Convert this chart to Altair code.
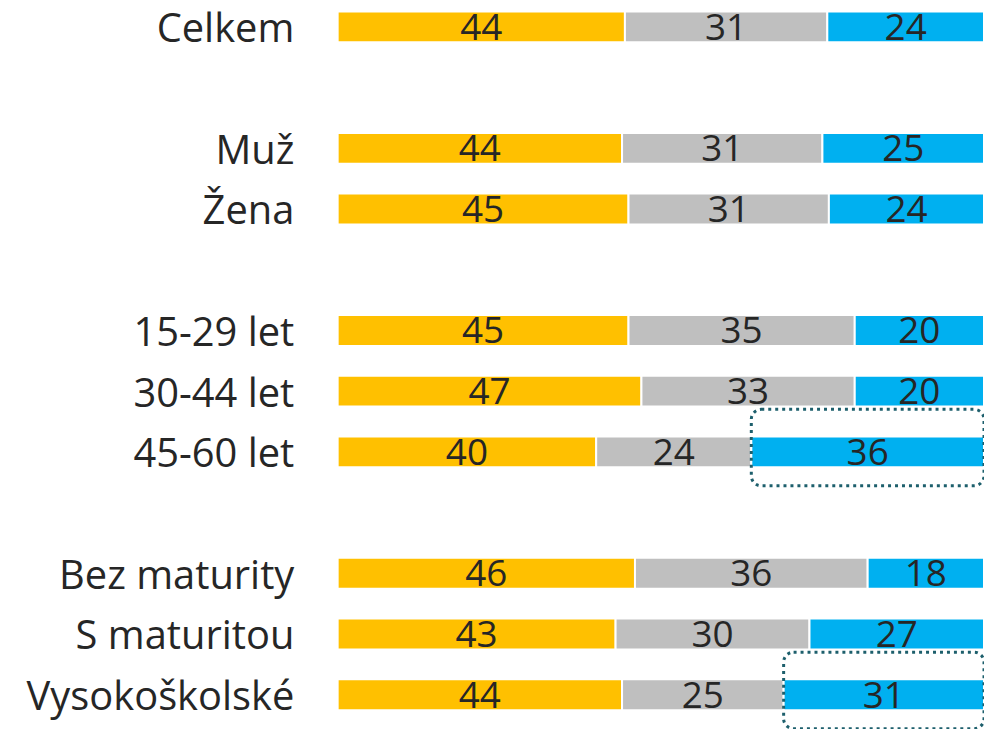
import altair as alt
import pandas as pd

rows = ["Celkem", "", "Muž", "Žena", "", "15-29 let", "30-44 let", "45-60 let",
        "", "Bez maturity", "S maturitou", "Vysokoškolské"]
series = ["a", "b", "c"]
colors = ["#FFC000", "#BFBFBF", "#00B0F0"]
values = {
    "Celkem": [44, 31, 24],
    "Muž": [44, 31, 25],
    "Žena": [45, 31, 24],
    "15-29 let": [45, 35, 20],
    "30-44 let": [47, 33, 20],
    "45-60 let": [40, 24, 36],
    "Bez maturity": [46, 36, 18],
    "S maturitou": [43, 30, 27],
    "Vysokoškolské": [44, 25, 31],
}
highlight_rows = ["45-60 let", "Vysokoškolské"]
highlight_series = "c"

recs = []
for i, r in enumerate(rows):
    if r in values:
        for k, (s, v) in enumerate(zip(series, values[r])):
            recs.append({"row": i, "name": r, "series": s, "order": k, "value": v,
                         "hl": (r in highlight_rows and s == highlight_series)})
df = pd.DataFrame(recs)

label_rows = [i for i, r in enumerate(rows) if r]
label_expr = "[" + ",".join("'" + r + "'" for r in rows) + "][datum.value]"

FONT = "Open Sans"
TXT = "#262626"

base = alt.Chart(df).transform_joinaggregate(
    total="sum(value)", groupby=["row"]
).transform_calculate(
    frac="datum.value / datum.total"
).transform_stack(
    stack="frac", groupby=["row"], as_=["x0", "x1"],
    sort=[alt.SortField("order", "ascending")]
).transform_calculate(
    mid="(datum.x0 + datum.x1) / 2"
)

yscale = alt.Scale(domain=[-0.1887, 11.541], reverse=True, zero=False, nice=False, padding=0)
xscale = alt.Scale(domain=[0, 1], nice=False, padding=0)

bars = base.mark_bar(size=31, stroke="white", strokeWidth=2).encode(
    x=alt.X("x0:Q", scale=xscale, axis=None),
    x2="x1:Q",
    y=alt.Y("row:Q", scale=yscale,
            axis=alt.Axis(values=label_rows, labelExpr=label_expr, domain=False,
                          ticks=False, grid=False, title=None, labelPadding=44,
                          labelFont=FONT, labelFontSize=40, labelColor=TXT,
                          labelBaseline="middle", labelLimit=0, labelOffset=3)),
    color=alt.Color("series:N", scale=alt.Scale(domain=series, range=colors), legend=None),
)

texts = base.mark_text(font=FONT, fontSize=37, color=TXT, baseline="middle", dy=2).encode(
    x=alt.X("mid:Q", scale=xscale),
    y=alt.Y("row:Q", scale=yscale),
    text="value:Q",
)

boxes = base.transform_filter("datum.hl").transform_calculate(
    top="datum.row - 0.70", bot="datum.row + 0.56"
).mark_rect(fill=None, filled=False, stroke="#1D5F6C", strokeWidth=3,
            strokeDash=[3, 4], cornerRadius=10).encode(
    x=alt.X("x0:Q", scale=xscale),
    x2="x1:Q",
    y=alt.Y("top:Q", scale=yscale),
    y2="bot:Q",
)

chart = alt.layer(bars, texts, boxes).properties(
    width=649, height=715,
    autosize=alt.AutoSizeParams(type="none"),
    padding={"left": 331, "top": 6, "right": 0, "bottom": 0},
).configure_view(stroke=None)

chart.save("out.html", embed_options={"renderer": "svg", "actions": False})
